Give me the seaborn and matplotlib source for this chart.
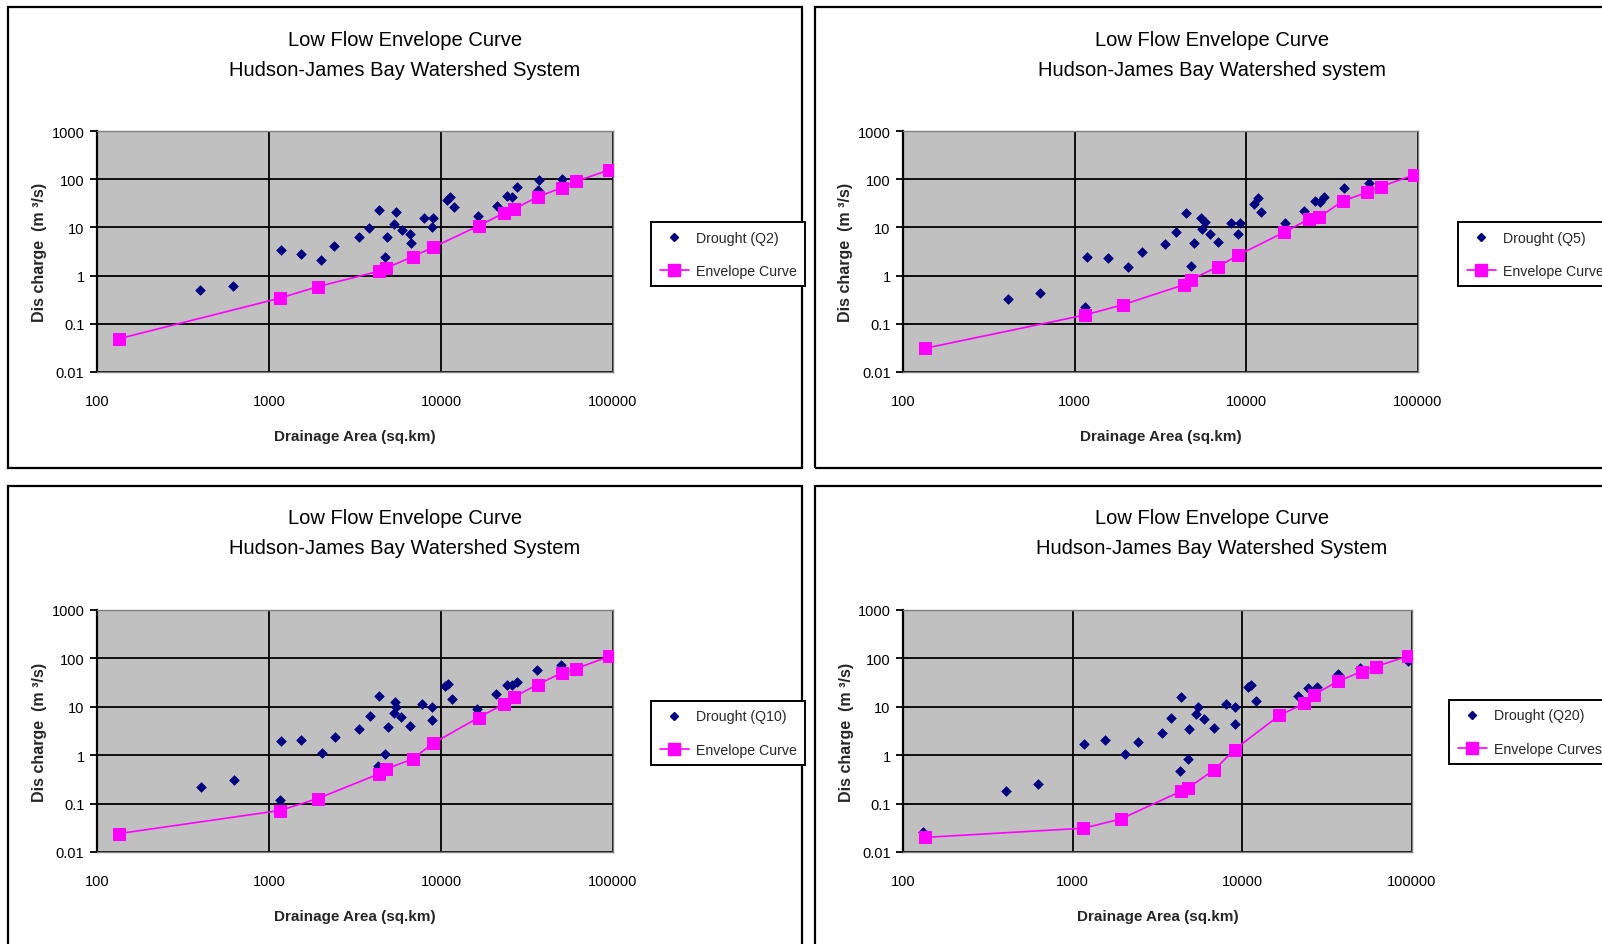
import matplotlib
matplotlib.use("Agg")
import matplotlib.pyplot as plt
from matplotlib.patches import Rectangle
from matplotlib.lines import Line2D
import seaborn as sns
import pandas as pd

sns.set_theme(style="white")
FONT = ['Liberation Sans Narrow', 'Liberation Sans', 'DejaVu Sans']
plt.rcParams['font.family'] = FONT

# ---------------- data ----------------
title_line1 = "Low Flow Envelope Curve"
titles_line2 = ["Hudson-James Bay Watershed System", "Hudson-James Bay Watershed system",
                "Hudson-James Bay Watershed System", "Hudson-James Bay Watershed System"]
drought_labels = ["Drought (Q2)", "Drought (Q5)", "Drought (Q10)", "Drought (Q20)"]
envelope_labels = ["Envelope Curve", "Envelope Curve", "Envelope Curve", "Envelope Curves"]

x_ticks = [100, 1000, 10000, 100000]
x_tick_labels = ["100", "1000", "10000", "100000"]
y_ticks = [0.01, 0.1, 1, 10, 100, 1000]
y_tick_labels = ["0.01", "0.1", "1", "10", "100", "1000"]

env_area = [134, 1155, 1920, 4350, 4780, 6830, 9000, 16550, 23200, 26500, 36500, 50600, 61000, 95000]
env_q2 = [0.049, 0.34, 0.59, 1.23, 1.42, 2.47, 3.86, 10.8, 19.8, 23.9, 43, 67, 90, 156]
env_q5 = [0.031, 0.153, 0.25, 0.65, 0.83, 1.53, 2.68, 7.9, 14.9, 16.1, 35.6, 53, 70.5, 123]
env_q10 = [0.024, 0.072, 0.127, 0.41, 0.52, 0.83, 1.77, 6.0, 11.4, 16.0, 28.8, 50.7, 61.4, 110]
env_q20 = [0.020, 0.031, 0.048, 0.18, 0.21, 0.50, 1.31, 6.65, 11.7, 17.9, 33.4, 53.5, 67.6, 112]

dr_area_q2 = [398, 620, 1175, 1528, 2018, 2393, 3320, 3826, 4385, 4740, 4885, 5360, 5460, 5930, 6637,
              6730, 7940, 8890, 9020, 10810, 11240, 11920, 16360, 21200, 24300, 26000, 27600, 37200,
              36400, 50400]
dr_q2 = [0.50, 0.60, 3.4, 2.76, 2.07, 4.1, 6.4, 9.8, 23.2, 2.4, 6.2, 11.9, 20.4, 9.0, 7.3,
         4.7, 15.4, 10.3, 15.9, 36.8, 41.8, 26.8, 17.4, 27.2, 45.2, 41.8, 70.5, 95,
         60, 103]

dr_area_q5 = [411, 632, 1146, 1186, 1574, 2038, 2466, 3350, 3880, 4446, 4786, 4977, 5480, 5540, 5730,
              6137, 6834, 8150, 8980, 9200, 11070, 11630, 12210, 16800, 21600, 25000, 26900, 28250,
              37300, 51500]
dr_q5 = [0.33, 0.44, 0.22, 2.47, 2.28, 1.51, 3.14, 4.5, 7.9, 19.5, 1.61, 4.67, 15.3, 9.2, 13.1,
         7.3, 4.9, 12.3, 7.3, 12.3, 30.4, 39.8, 20.4, 12.1, 22.1, 35.6, 32.9, 41.8,
         67, 85]

dr_area_q10 = [401, 624, 1151, 1169, 1542, 2023, 2422, 3318, 3840, 4375, 4300, 4730, 4942, 5320, 5370,
               5500, 5870, 6620, 7800, 8810, 8810, 10600, 11000, 11570, 16100, 20900, 24200, 26000,
               27700, 36200, 49900]
dr_q10 = [0.217, 0.306, 0.121, 1.97, 2.07, 1.12, 2.34, 3.47, 6.4, 16.6, 0.6, 1.06, 3.9, 7.3, 12.7,
          10, 6.2, 4.07, 11.4, 10, 5.3, 26.6, 30, 14.8, 9.2, 18.2, 27.9, 27.9,
          32.7, 56.6, 71.8]

dr_area_q20 = [132, 402, 622, 1164, 1560, 2024, 2441, 3363, 3785, 4345, 4285, 4796, 4863, 5340, 5450,
               5980, 6770, 7960, 9010, 9010, 10800, 11200, 12000, 21400, 24400, 27400, 36600, 49200,
               94700]
dr_q20 = [0.0256, 0.18, 0.25, 1.70, 2.06, 1.06, 1.84, 2.86, 5.8, 16.0, 0.48, 0.84, 3.44, 6.98, 10,
          5.7, 3.6, 11.2, 10, 4.35, 25.6, 28.6, 13.1, 17.0, 24.4, 25.6, 47.9, 64.6,
          88]

panels = [
    (dr_area_q2, dr_q2, env_q2),
    (dr_area_q5, dr_q5, env_q5),
    (dr_area_q10, dr_q10, env_q10),
    (dr_area_q20, dr_q20, env_q20),
]

# ---------------- layout ----------------
W, H = 1602, 945
fig = plt.figure(figsize=(W / 100, H / 100), dpi=100)
fig.patch.set_facecolor("white")

def fx(px):
    return px / W

def fy(py):
    return 1 - py / H

# panel boxes (px): left, top, right, bottom
boxes = [(8, 8, 802, 469), (815, 8, 1609, 469), (8, 487, 802, 954), (815, 487, 1609, 954)]
# plot areas (px)
plots = [(97, 132, 613, 373), (903, 132, 1418, 373), (97, 611, 613, 853), (903, 611, 1412, 853)]
# legend upper-left (px)
legends = [(651, 223), (1458, 223), (651, 702), (1449, 701)]

NAVY = "#000080"
MAGENTA = "#FF00FF"

for i, (box, pa, lg, (dra, drv, envv)) in enumerate(zip(boxes, plots, legends, panels)):
    l, t, r, b = box
    fig.patches.append(Rectangle((fx(l), fy(b)), fx(r - l), (b - t) / H, transform=fig.transFigure,
                                 fill=False, edgecolor="black", linewidth=1.6, zorder=0))
    cx = (l + r) / 2
    off = 0 if i < 2 else 479
    fig.text(fx(cx), fy(40 + off), title_line1, ha="center", va="center", fontsize=14.5,
             family=FONT, color="black")
    fig.text(fx(cx), fy(70 + off), titles_line2[i], ha="center", va="center", fontsize=14.5,
             family=FONT, color="black")

    pl, pt, pr, pb = pa
    ax = fig.add_axes([fx(pl), fy(pb), fx(pr - pl), (pb - pt) / H])
    ax.set_facecolor("#C0C0C0")
    ax.set_xscale("log")
    ax.set_yscale("log")
    ax.set_xlim(100, 100000)
    ax.set_ylim(0.01, 1000)

    df_d = pd.DataFrame({"area": dra, "q": drv})
    df_e = pd.DataFrame({"area": env_area, "q": envv})
    sns.scatterplot(data=df_d, x="area", y="q", ax=ax, marker="D", s=24, color=NAVY,
                    edgecolor=NAVY, linewidth=0.5, zorder=3, legend=False)
    sns.lineplot(data=df_e, x="area", y="q", ax=ax, color=MAGENTA, linewidth=1.2,
                 marker="s", markersize=8.5, markeredgecolor=MAGENTA, markerfacecolor=MAGENTA,
                 sort=False, estimator=None, zorder=4, legend=False)

    ax.set_xticks(x_ticks)
    ax.set_xticklabels(x_tick_labels)
    ax.set_yticks(y_ticks)
    ax.set_yticklabels(y_tick_labels)
    ax.minorticks_off()
    ax.grid(True, which="major", color="black", linewidth=1.3)
    ax.set_axisbelow(True)
    for s in ["top", "right", "bottom"]:
        ax.spines[s].set_color("#808080")
        ax.spines[s].set_linewidth(1.0)
    ax.spines["left"].set_color("black")
    ax.spines["left"].set_linewidth(1.6)
    ax.tick_params(axis="y", which="major", left=True, length=5, width=1.3, color="black",
                   pad=4, labelsize=10.5, labelcolor="black")
    ax.tick_params(axis="x", which="major", bottom=False, length=0, pad=16, labelsize=10.5,
                   labelcolor="black")
    for lab in ax.get_xticklabels() + ax.get_yticklabels():
        lab.set_family(FONT)

    ax.set_xlabel("Drainage Area (sq.km)", fontsize=11, fontweight="bold", family=FONT)
    ax.xaxis.set_label_coords(0.5, -0.235)
    ax.set_ylabel("Dis charge  (m ³/s)", fontsize=11.5, fontweight="bold", family=FONT)
    ax.yaxis.set_label_coords(-0.097, 0.5)

    handles = [
        Line2D([], [], linestyle="none", marker="D", markersize=4.5, color=NAVY),
        Line2D([], [], color=MAGENTA, linewidth=1.2, marker="s", markersize=8.5),
    ]
    lx, ly = lg
    leg = fig.legend(handles, [drought_labels[i], envelope_labels[i]], loc="upper left",
                     bbox_to_anchor=(fx(lx), fy(ly)), bbox_transform=fig.transFigure,
                     borderaxespad=0, frameon=True, fancybox=False,
                     handlelength=2.1, handletextpad=0.45, labelspacing=1.35,
                     borderpad=0.6, prop={"family": FONT, "size": 10.2})
    leg.get_frame().set_edgecolor("black")
    leg.get_frame().set_linewidth(1.4)
    leg.get_frame().set_facecolor("white")
    leg.get_frame().set_alpha(1)

fig.savefig("out.png", dpi=100)
